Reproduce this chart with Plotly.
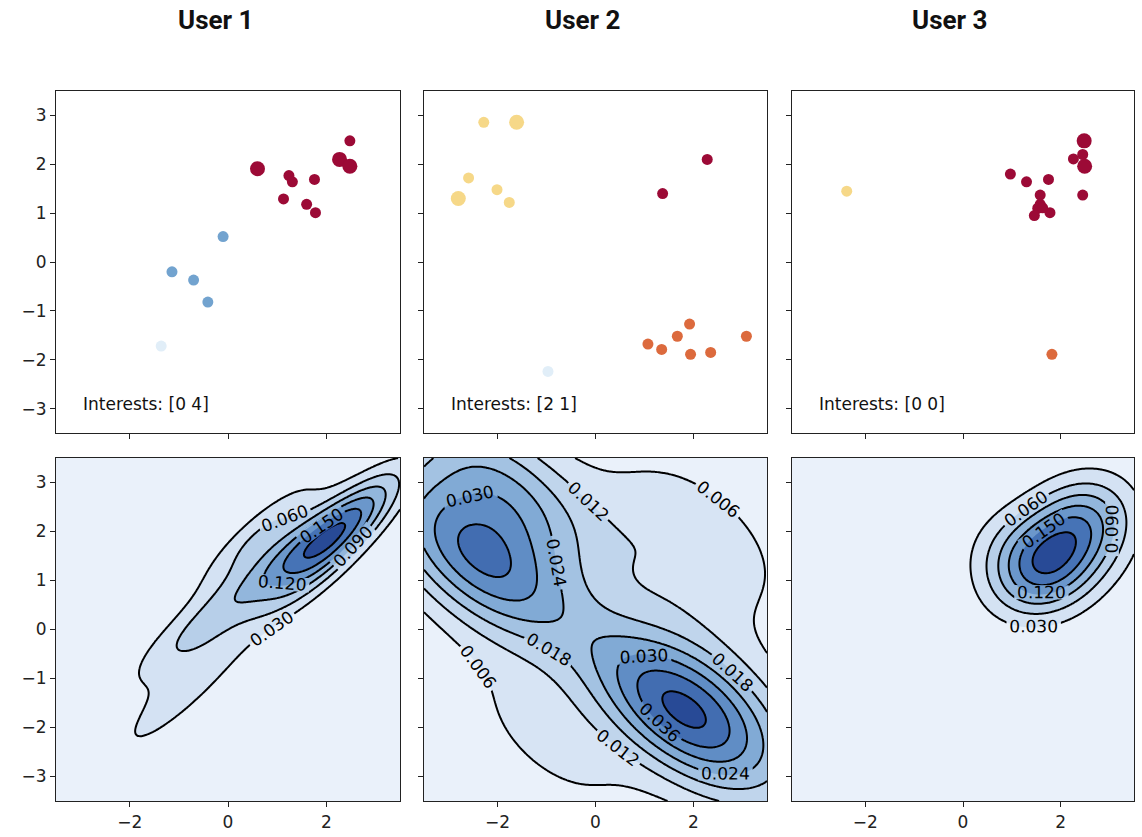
import numpy as np
import plotly.graph_objects as go

# ---------------- data ----------------
users = ["User 1", "User 2", "User 3"]
interests = ["Interests: [0 4]", "Interests: [2 1]", "Interests: [0 0]"]

u1_x = [0.60, 1.24, 1.31, 1.76, 1.13, 1.60, 1.78, 2.27, 2.48, 2.48, -0.10, -1.14, -0.70, -0.41, -1.36]
u1_y = [1.91, 1.77, 1.64, 1.69, 1.29, 1.18, 1.01, 2.10, 1.96, 2.48, 0.52, -0.20, -0.37, -0.82, -1.72]
u1_group = [0, 0, 0, 0, 0, 0, 0, 0, 0, 0, 4, 4, 4, 4, 3]
u1_big = [1, 0, 0, 0, 0, 0, 0, 1, 1, 0, 0, 0, 0, 0, 0]

u2_x = [-2.28, -1.61, -2.59, -2.01, -2.80, -1.76, 2.28, 1.37, 1.92, 1.67, 1.07, 1.35, 1.94, 2.35, 3.08, -0.97]
u2_y = [2.86, 2.86, 1.72, 1.48, 1.30, 1.22, 2.10, 1.40, -1.27, -1.52, -1.68, -1.79, -1.89, -1.85, -1.52, -2.24]
u2_group = [2, 2, 2, 2, 2, 2, 0, 0, 1, 1, 1, 1, 1, 1, 1, 3]
u2_big = [0, 1, 0, 0, 1, 0, 0, 0, 0, 0, 0, 0, 0, 0, 0, 0]

u3_x = [-2.38, 1.82, 2.48, 2.45, 2.26, 2.49, 0.97, 1.30, 1.75, 2.45, 1.58, 1.58, 1.53, 1.78, 1.46, 1.63]
u3_y = [1.45, -1.89, 2.48, 2.20, 2.11, 1.96, 1.80, 1.64, 1.69, 1.37, 1.37, 1.18, 1.10, 1.01, 0.95, 1.11]
u3_group = [2, 1, 0, 0, 0, 0, 0, 0, 0, 0, 0, 0, 0, 0, 0, 0]
u3_big = [0, 0, 1, 0, 0, 1, 0, 0, 0, 0, 0, 0, 0, 0, 0, 0]

level_step = [0.03, 0.006, 0.03]
bandwidth_scale = [1.0, 0.95, 1.0]
big_weight = 2.0
axis_ticks = [-3, -2, -1, 0, 1, 2, 3]
x_ticks = [-2, 0, 2]

# ---------------- style ----------------
group_colors = ["#9c0a36", "#dc6a3d", "#f6d888", "#e1eef8", "#72a3cf"]
fill_scale = [[0.0, "rgb(234,241,250)"], [0.2, "rgb(208,223,241)"], [0.4, "rgb(170,199,229)"],
              [0.6, "rgb(122,165,210)"], [0.8, "rgb(76,123,188)"], [1.0, "rgb(40,74,150)"]]
W, H = 1142, 837
col_px = [(56, 400), (424, 767), (792, 1134)]
row_px = [(91, 433), (458, 801)]
title_px = [215, 582, 949]
tick_font = dict(family="DejaVu Sans", size=17, color="#222222")


def minus(v):
    return str(v).replace("-", "\u2212")


def kde(xs, ys, wts, bw, gx, gy):
    data = np.vstack([xs, ys])
    w = np.asarray(wts, float)
    w = w / w.sum()
    neff = 1.0 / np.sum(w ** 2)
    cov = np.cov(data, aweights=w) * (neff ** (-1.0 / 6.0) * bw) ** 2
    inv = np.linalg.inv(cov)
    norm = 1.0 / (2 * np.pi * np.sqrt(np.linalg.det(cov)))
    XX, YY = np.meshgrid(gx, gy)
    pts = np.stack([XX.ravel(), YY.ravel()])
    z = np.zeros(pts.shape[1])
    for i in range(data.shape[1]):
        d = pts - data[:, i:i + 1]
        z += w[i] * np.exp(-0.5 * np.sum(d * (inv @ d), axis=0))
    return (z * norm).reshape(XX.shape)


datasets = [(u1_x, u1_y, u1_group, u1_big), (u2_x, u2_y, u2_group, u2_big), (u3_x, u3_y, u3_group, u3_big)]

fig = go.Figure()
layout = dict(width=W, height=H, margin=dict(l=0, r=0, t=0, b=0), paper_bgcolor="white",
              plot_bgcolor="white", showlegend=False, annotations=[])

grid = np.linspace(-3.5, 3.5, 200)

for c in range(3):
    xs, ys, grp, big = datasets[c]
    for r in range(2):
        k = r * 3 + c + 1
        xa = "x" if k == 1 else f"x{k}"
        ya = "y" if k == 1 else f"y{k}"
        xd = [col_px[c][0] / W, col_px[c][1] / W]
        yd = [1 - row_px[r][1] / H, 1 - row_px[r][0] / H]
        common = dict(range=[-3.5, 3.5], showgrid=False, zeroline=False, showline=True, mirror=True,
                      linecolor="#222222", linewidth=1.2, ticks="outside", ticklen=5, tickwidth=1.2,
                      tickcolor="#222222", tickfont=tick_font)
        layout["xaxis" if k == 1 else f"xaxis{k}"] = dict(
            common, domain=xd, anchor=ya, tickvals=x_ticks,
            ticktext=[minus(v) for v in x_ticks] if r == 1 else ["" for v in x_ticks])
        layout["yaxis" if k == 1 else f"yaxis{k}"] = dict(
            common, domain=yd, anchor=xa, tickvals=axis_ticks,
            ticktext=[minus(v) for v in axis_ticks] if c == 0 else ["" for v in axis_ticks])

        if r == 0:
            fig.add_trace(go.Scatter(
                x=xs, y=ys, mode="markers", xaxis=xa, yaxis=ya, hoverinfo="skip",
                marker=dict(color=[group_colors[g] for g in grp], opacity=1,
                            size=[15 if b else 11 for b in big], line=dict(width=0))))
            layout["annotations"].append(dict(
                text=interests[c], xref=f"{xa} domain", yref=f"{ya} domain", x=0.072, y=0.085,
                xanchor="left", yanchor="middle", showarrow=False,
                font=dict(family="DejaVu Sans", size=17, color="#111111")))
        else:
            wts = [big_weight if b else 1.0 for b in big]
            z = kde(xs, ys, wts, bandwidth_scale[c], grid, grid)
            step = level_step[c]
            top = float(np.floor(z.max() / step) * step)
            fig.add_trace(go.Contour(
                x=grid, y=grid, z=z, xaxis=xa, yaxis=ya, showscale=False,
                colorscale=fill_scale, zmin=0, zmax=top + step,
                contours=dict(start=step, end=top, size=step, coloring="fill"), line=dict(width=0),
                hoverinfo="skip"))
            fig.add_trace(go.Contour(
                x=grid, y=grid, z=z, xaxis=xa, yaxis=ya, showscale=False,
                colorscale=[[0, "black"], [1, "black"]],
                contours=dict(start=step, end=top, size=step, coloring="lines", showlabels=True,
                              labelformat=".3f",
                              labelfont=dict(family="DejaVu Sans", size=17, color="black")),
                line=dict(width=2, color="black"), hoverinfo="skip"))

    layout["annotations"].append(dict(
        text=f"<b>{users[c]}</b>", xref="paper", yref="paper", x=title_px[c] / W, y=1 - 20 / H,
        xanchor="center", yanchor="middle", showarrow=False,
        font=dict(family="Roboto", size=26, color="#111111")))

fig.update_layout(**layout)
fig.write_html("out.html", config={"displayModeBar": False},
               post_script="document.body.style.margin='0px';")
